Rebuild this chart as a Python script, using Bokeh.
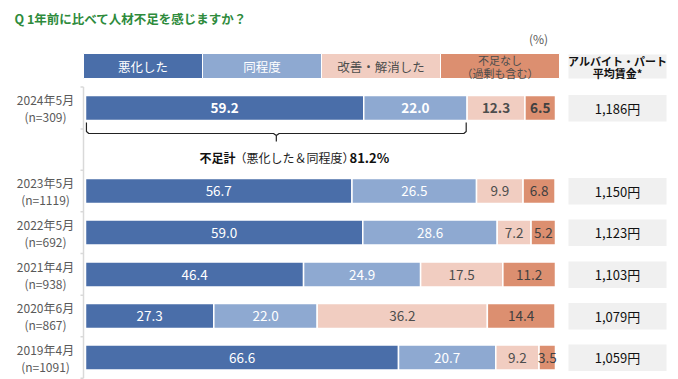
from bokeh.plotting import figure
from bokeh.models import Range1d, ColumnDataSource
from bokeh.core.properties import value
from bokeh.embed import file_html
from bokeh.resources import INLINE
import numpy as np

# ---------------- data ----------------
title = "Q 1年前に比べて人材不足を感じますか？"
categories = ["悪化した", "同程度", "改善・解消した", "不足なし"]
category_sub = ["", "", "", "（過剰も含む）"]
periods = ["2024年5月", "2023年5月", "2022年5月", "2021年4月", "2020年6月", "2019年4月"]
samples = ["(n=309)", "(n=1119)", "(n=692)", "(n=938)", "(n=867)", "(n=1091)"]
worse = [59.2, 56.7, 59.0, 46.4, 27.3, 66.6]
same = [22.0, 26.5, 28.6, 24.9, 22.0, 20.7]
improved = [12.3, 9.9, 7.2, 17.5, 36.2, 9.2]
no_shortage = [6.5, 6.8, 5.2, 11.2, 14.4, 3.5]
wages = ["1,186円", "1,150円", "1,123円", "1,103円", "1,079円", "1,059円"]
wage_header = ["アルバイト・パート", "平均賃金*"]
total_label = ["不足計", "（悪化した＆同程度）", "81.2%"]
unit_label = "(%)"

# ---------------- styling / layout ----------------
FONT = "Noto Sans CJK JP"
colors = ["#4a6ea9", "#8ea9d1", "#f1cdc1", "#dc8f70"]
label_colors = ["#ffffff", "#ffffff", "#4d4d4d", "#404040"]
header_text_colors = ["#ffffff", "#ffffff", "#4d4d4d", "#4d4d4d"]
PX = 4.7           # pixels per percent
X0 = 85            # screen x of 0 %
W, H = 670, 379

def px(x):
    return (x - X0) / PX

row_y = [107.5, 190.5, 232.0, 274.0, 315.5, 357.0]
bar_h = 25

p = figure(width=W, height=H, output_backend="svg", toolbar_location=None,
           x_range=Range1d(px(0), px(W)), y_range=Range1d(H, 0),
           min_border=0, outline_line_color=None)
p.axis.visible = False
p.grid.visible = False

# title
p.text(x=[px(14)], y=[18], text=[title], text_font=value(FONT), text_font_size="12.5px",
       text_font_style="bold", text_color="#2e8b3c", text_baseline="middle", text_align="left")
p.text(x=[px(538)], y=[38], text=[unit_label], text_font=value(FONT), text_font_size="12px",
       text_color="#595959", text_baseline="middle", text_align="center")

# header boxes
hw = 119 / PX
hl = [px(83) + i * hw for i in range(4)]
p.quad(left=hl, right=[l + hw for l in hl], top=[53] * 4, bottom=[78] * 4,
       fill_color=colors, line_color="white", line_width=1)
for i, c in enumerate(categories):
    if category_sub[i]:
        p.text(x=[hl[i] + hw / 2], y=[59.5], text=[c], text_font=value(FONT), text_font_size="11px",
               text_color=header_text_colors[i], text_align="center", text_baseline="middle")
        p.text(x=[hl[i] + hw / 2], y=[72], text=[category_sub[i]], text_font=value(FONT),
               text_font_size="11px", text_color=header_text_colors[i], text_align="center",
               text_baseline="middle")
    else:
        p.text(x=[hl[i] + hw / 2], y=[65.5], text=[c], text_font=value(FONT), text_font_size="12.5px",
               text_color=header_text_colors[i], text_align="center", text_baseline="middle")

# wage header
wl, wr = px(568), px(666)
p.quad(left=[wl], right=[wr], top=[54], bottom=[78], fill_color="#f0f0f0", line_color=None)
p.text(x=[(wl + wr) / 2] * 2, y=[60, 72.5], text=wage_header, text_font=value(FONT),
       text_font_size="11px", text_font_style="bold", text_color="#111111",
       text_align="center", text_baseline="middle")

# left axis
sep = [row_y[0] - 21, row_y[0] + 21, row_y[1] - 20.8] + \
      [(row_y[i] + row_y[i + 1]) / 2 for i in range(1, 5)] + [row_y[5] + 20.8]
p.segment(x0=[px(83)], y0=[sep[0]], x1=[px(83)], y1=[sep[-1]], line_color="#d9d9d9", line_width=1.5)
p.segment(x0=[px(80)] * len(sep), y0=sep, x1=[px(83)] * len(sep), y1=sep,
          line_color="#d9d9d9", line_width=1.5)

# stacked bars
series = [worse, same, improved, no_shortage]
vals = np.array(series)
cum = np.vstack([np.zeros(len(periods)), np.cumsum(vals, axis=0)])
for k in range(4):
    src = ColumnDataSource(dict(
        left=cum[k], right=cum[k + 1], y=row_y, v=[f"{v:.1f}" for v in vals[k]],
        mid=(cum[k] + cum[k + 1]) / 2))
    p.hbar(y="y", left="left", right="right", height=bar_h, source=src,
           fill_color=colors[k], line_color="white", line_width=1.5)
    # 2024 row bold, others regular
    bsrc = ColumnDataSource(dict(mid=[src.data["mid"][0]], y=[row_y[0]], v=[src.data["v"][0]]))
    p.text(x="mid", y="y", text="v", source=bsrc, text_font=value(FONT), text_font_size="13.5px",
           text_font_style="bold", text_color=label_colors[k], text_align="center",
           text_baseline="middle")
    rsrc = ColumnDataSource(dict(mid=list(src.data["mid"][1:]), y=row_y[1:], v=src.data["v"][1:]))
    p.text(x="mid", y="y", text="v", source=rsrc, text_font=value(FONT), text_font_size="13.5px",
           text_color=label_colors[k], text_align="center", text_baseline="middle")

# row labels
p.text(x=[px(45)] * len(periods), y=[y - 8.5 for y in row_y], text=periods, text_font=value(FONT),
       text_font_size="12px", text_color="#595959", text_align="center", text_baseline="middle")
p.text(x=[px(45)] * len(periods), y=[y + 8.5 for y in row_y], text=samples, text_font=value(FONT),
       text_font_size="12px", text_color="#595959", text_align="center", text_baseline="middle")

# wage boxes
p.quad(left=[wl] * 6, right=[wr] * 6, top=[y - 13 for y in row_y], bottom=[y + 13.5 for y in row_y],
       fill_color="#f0f0f0", line_color=None)
p.text(x=[(wl + wr) / 2] * 6, y=row_y, text=wages, text_font=value(FONT), text_font_size="13px",
       text_color="#111111", text_align="center", text_baseline="middle")

# brace under 2024 (worse + same)
tot = worse[0] + same[0]
xl, xr, xm = 0.2, tot - 0.2, tot / 2
yt, yb, ytip = 122, 133, 141
p.line(x=[xl, xl, xl + 0.5, xm - 0.6, xm, xm], y=[yt, yb - 2, yb, yb, yb + 2, ytip],
       line_color="#222222", line_width=1.2)
p.line(x=[xr, xr, xr - 0.5, xm + 0.6, xm], y=[yt, yb - 2, yb, yb, yb + 2],
       line_color="#222222", line_width=1.2)

# total label
p.text(x=[px(199)], y=[157], text=[total_label[0]], text_font=value(FONT), text_font_size="12px",
       text_font_style="bold", text_color="#111111", text_align="left", text_baseline="middle")
p.text(x=[px(234)], y=[157], text=[total_label[1]], text_font=value(FONT), text_font_size="12px",
       text_color="#222222", text_align="left", text_baseline="middle")
p.text(x=[px(349)], y=[157], text=[f"{tot:.1f}%"], text_font=value(FONT), text_font_size="13px",
       text_font_style="bold", text_color="#111111", text_align="left", text_baseline="middle")

open("out.html", "w").write(file_html(p, INLINE))
